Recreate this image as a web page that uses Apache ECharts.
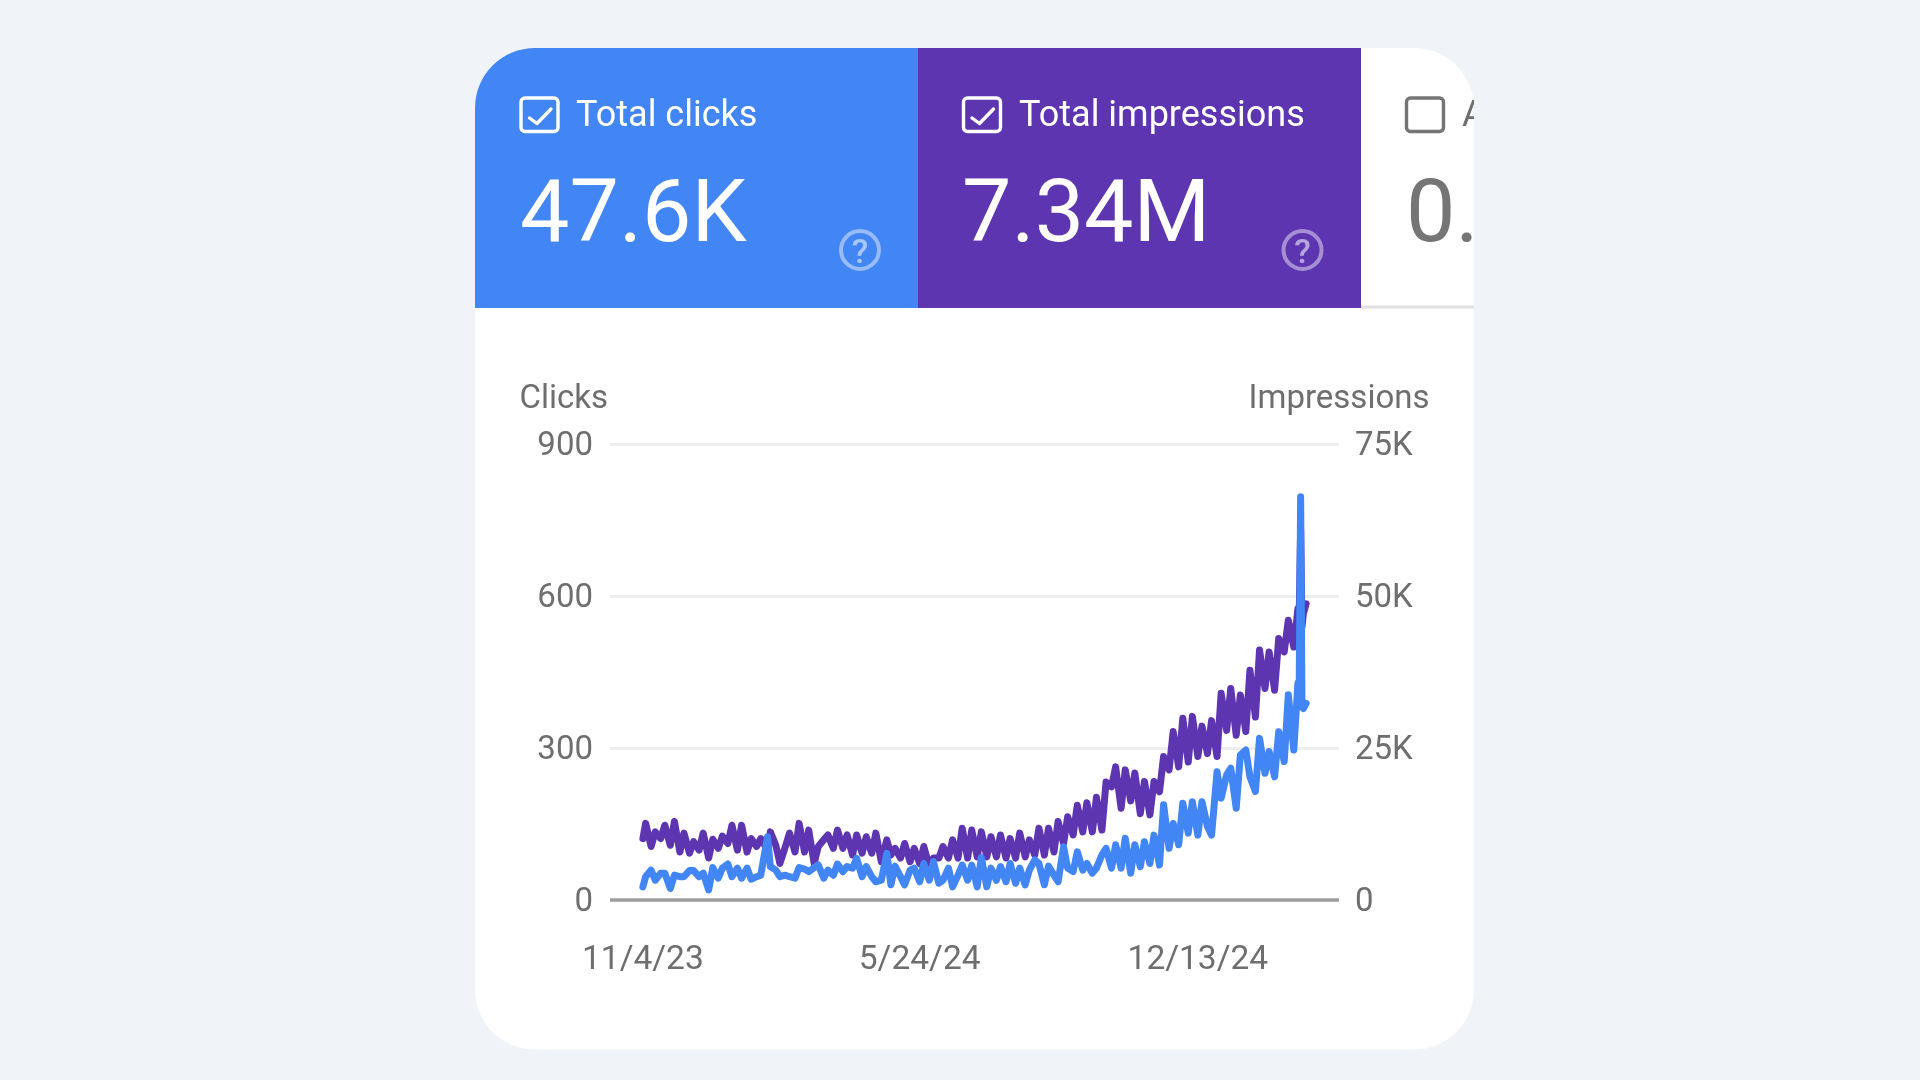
<!DOCTYPE html>
<html>
<head>
<meta charset="utf-8">
<style>html,body{margin:0;padding:0;background:#f0f4f9}#c{width:1920px;height:1080px}</style>
<script src="https://cdn.jsdelivr.net/npm/echarts@6/dist/echarts.min.js"></script>
</head>
<body>
<div id="c"></div>
<script>
const dates = [
'11/4/23','11/6/23','11/10/23','11/13/23','11/17/23','11/20/23','11/24/23','11/27/23',
'12/1/23','12/4/23','12/8/23','12/11/23','12/15/23','12/18/23','12/22/23','12/25/23','12/29/23',
'1/1/24','1/5/24','1/8/24','1/12/24','1/15/24','1/19/24','1/22/24','1/26/24','1/29/24',
'2/3/24','2/5/24','2/9/24','2/12/24','2/16/24','2/19/24','2/23/24','2/26/24',
'3/1/24','3/4/24','3/8/24','3/11/24','3/15/24','3/18/24','3/22/24','3/25/24','3/29/24',
'4/1/24','4/5/24','4/8/24','4/12/24','4/15/24','4/19/24','4/22/24','4/26/24','4/30/24',
'5/3/24','5/6/24','5/10/24','5/13/24','5/17/24','5/20/24','5/24/24','5/27/24','5/31/24',
'6/3/24','6/7/24','6/10/24','6/14/24','6/17/24','6/21/24','6/24/24','6/28/24',
'7/1/24','7/5/24','7/8/24','7/12/24','7/15/24','7/19/24','7/22/24','7/26/24','7/29/24',
'8/2/24','8/5/24','8/9/24','8/12/24','8/16/24','8/19/24','8/23/24','8/26/24','8/30/24',
'9/2/24','9/6/24','9/9/24','9/13/24','9/16/24','9/20/24','9/23/24','9/27/24','9/30/24',
'10/4/24','10/7/24','10/11/24','10/14/24','10/18/24','10/21/24','10/25/24','10/28/24',
'11/1/24','11/4/24','11/8/24','11/11/24','11/15/24','11/18/24','11/22/24','11/25/24','11/29/24',
'12/2/24','12/6/24','12/9/24','12/13/24','12/16/24','12/20/24','12/23/24','12/27/24','12/30/24',
'1/3/25','1/6/25','1/10/25','1/13/25','1/17/25','1/20/25','1/24/25','1/27/25','1/31/25',
'2/3/25','2/7/25','2/10/25','2/14/25','2/17/25','2/21/25','2/24/25','2/25/25','2/26/25','2/27/25','2/28/25','3/2/25'
];
const clicks = [
26,46,59,39,53,53,23,49,46,46,58,58,46,53,20,64,43,63,71,46,63,43,63,41,46,49,
125,66,59,46,49,46,43,64,61,56,64,69,43,59,49,71,56,66,63,82,46,66,46,36,39,92,
30,67,46,30,59,63,36,72,39,76,33,39,63,26,49,69,39,69,26,84,26,63,39,66,36,72,
33,63,30,59,79,72,30,67,49,36,105,63,56,95,59,72,53,63,89,102,63,109,63,
122,53,109,66,115,72,128,69,188,102,151,109,191,132,194,128,194,145,128,253,201,
247,260,181,286,296,243,214,319,250,293,243,332,273,405,296,428,434,796,382,378,388
];
const impressions = [
10100,12600,8800,11200,10100,12300,9000,12900,7900,11000,7700,9600,8200,11000,6900,10000,8500,10500,9300,12300,
8200,12300,7900,10100,8800,10100,8200,11200,9000,6000,8800,11000,7900,12600,7900,11500,6000,8800,9900,10700,
8500,11500,8500,10700,7400,10700,7700,10400,7700,11000,6300,9900,7400,8500,6900,9300,6300,8500,6000,8800,
5500,6900,6900,8800,6900,9900,6900,11800,6900,11500,7100,11200,7100,10400,7100,10700,6900,10100,6900,11000,
7100,9900,7400,11800,7400,11800,7900,12900,9300,13700,10700,15600,11200,16000,11200,16900,11500,19400,18600,21900,
15100,21400,16300,20900,14200,19500,14000,19500,17800,23600,21400,27700,21900,29900,22700,30200,23600,28600,24100,29500,
23600,34000,27900,34800,27100,33700,27700,37800,30100,41100,34800,40800,34500,43000,40800,46000,41600,47900,47400,60800,44900,47100,48700
];
const tickLabels = ['11/4/23','5/24/24','12/13/24'];
const axisStart = '10/11/23', axisEnd = '3/26/25';

const ts = s => new Date(s).getTime();
const pair = arr => arr.map((v,i)=>[ts(dates[i]),v]);
const BLUE='#4285f4', PURPLE='#5e35b1', BG='#f0f4f9', GREY='#6e6e6e', FONT='Roboto';
const labelRich = {a:{fontFamily:FONT,fontSize:33,color:GREY,padding:[6,0,0,0]}};

function checkbox(x, color, checked){
  const els=[{type:'rect',shape:{x:x,y:98,width:37,height:33.5,r:4},style:{fill:'none',stroke:color,lineWidth:3.4}}];
  if(checked) els.push({type:'polyline',shape:{points:[[x+8.5,118],[x+16,123.5],[x+30,109]]},style:{fill:'none',stroke:color,lineWidth:3.4,lineCap:'round',lineJoin:'round'}});
  return els;
}
function help(x){
  return [
   {type:'circle',shape:{cx:x,cy:250,r:19},style:{fill:'none',stroke:'rgba(255,255,255,0.45)',lineWidth:4}},
   {type:'text',x:x,y:254,style:{text:'?',fill:'rgba(255,255,255,0.55)',font:'500 34px '+FONT,textAlign:'center',textVerticalAlign:'middle'}}
  ];
}
function txt(text,x,y,size,color){
  return {type:'text',x:x,y:y,style:{text:text,fill:color,font:size+'px '+FONT,textAlign:'left',textVerticalAlign:'middle'}};
}
const graphics=[
 {type:'rect',z:-5,shape:{x:475,y:48,width:999,height:1001.5,r:60},style:{fill:'#fff'}},
 {type:'rect',z:-4,shape:{x:1361,y:305.5,width:113,height:3},style:{fill:'#e0e0e0'}},
 {type:'rect',z:-4,shape:{x:475,y:48,width:443,height:260,r:[60,0,0,0]},style:{fill:BLUE}},
 {type:'rect',z:-4,shape:{x:918,y:48,width:443,height:260},style:{fill:PURPLE}},
 ...checkbox(521,'#fff',true),
 ...checkbox(963.5,'#fff',true),
 ...checkbox(1406.5,'#757575',false),
 txt('Total clicks',576,117,36,'#fff'),
 txt('Total impressions',1019,117,36,'#fff'),
 txt('A',1462,117,36,GREY),
 txt('47.6K',520,218.5,88,'#fff'),
 txt('7.34M',962,218.5,88,'#fff'),
 txt('0.',1406,218.5,88,'#757575'),
 ...help(860),
 ...help(1302.5),
 {type:'rect',z:5,shape:{x:1474,y:48,width:446,height:262},style:{fill:BG}}
];

const chart=echarts.init(document.getElementById('c'),null,{width:1920,height:1080});
chart.setOption({
 animation:false,
 backgroundColor:BG,
 textStyle:{fontFamily:FONT},
 graphic:{elements:graphics},
 grid:{left:610,width:729,top:444,height:456,containLabel:false},
 xAxis:{type:'value',min:ts(axisStart),max:ts(axisEnd),
   axisLine:{show:true,onZero:false,lineStyle:{color:'#9e9e9e',width:3.5,cap:'butt'}},
   axisTick:{show:false},splitLine:{show:false},
   axisLabel:{customValues:tickLabels.map(ts),margin:44,fontFamily:FONT,fontSize:33.5,color:GREY,hideOverlap:false,
     formatter:v=>{const d=new Date(v);return (d.getMonth()+1)+'/'+d.getDate()+'/'+String(d.getFullYear()).slice(2);}}},
 yAxis:[
  {type:'value',min:0,max:900,interval:300,position:'left',name:'Clicks',nameLocation:'end',nameGap:44,
   nameTextStyle:{fontFamily:FONT,fontSize:33,color:GREY,align:'right',verticalAlign:'middle',padding:[0,2,0,0]},
   axisLine:{show:false},axisTick:{show:false},
   axisLabel:{margin:17,rich:labelRich,formatter:v=>'{a|'+v+'}'},
   splitLine:{show:true,lineStyle:{color:'#eeeeee',width:3,cap:'butt'}}},
  {type:'value',min:0,max:75000,interval:25000,position:'right',name:'Impressions',nameLocation:'end',nameGap:44,
   nameTextStyle:{fontFamily:FONT,fontSize:33,color:GREY,align:'center',verticalAlign:'middle'},
   axisLine:{show:false},axisTick:{show:false},splitLine:{show:false},
   axisLabel:{margin:16,rich:labelRich,formatter:v=>'{a|'+(v===0?'0':(v/1000)+'K')+'}'}}
 ],
 series:[
  {name:'Impressions',type:'line',yAxisIndex:1,data:pair(impressions),showSymbol:false,symbol:'none',
   lineStyle:{color:PURPLE,width:7,cap:'round',join:'round'},itemStyle:{color:PURPLE}},
  {name:'Clicks',type:'line',yAxisIndex:0,data:pair(clicks),showSymbol:false,symbol:'none',
   lineStyle:{color:BLUE,width:7,cap:'round',join:'round'},itemStyle:{color:BLUE}}
 ]
});
</script>
</body>
</html>
